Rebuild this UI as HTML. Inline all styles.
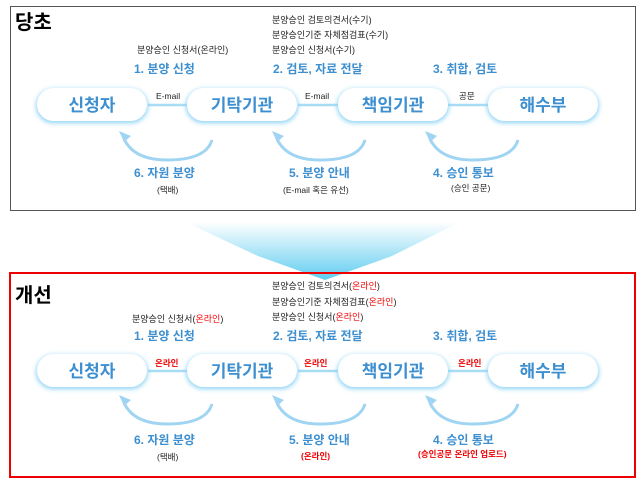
<!DOCTYPE html>
<html><head><meta charset="utf-8"><style>
body{margin:0;background:#fff;width:643px;height:480px;overflow:hidden}
svg{display:block}
text{font-family:"Liberation Sans","Noto Sans CJK KR",sans-serif}
</style></head><body>
<svg width="643" height="480" viewBox="0 0 643 480">
<defs>
<filter id="gl" x="-20%" y="-40%" width="140%" height="180%"><feGaussianBlur stdDeviation="2.5"/></filter>
<linearGradient id="ar" x1="0" y1="0" x2="0" y2="1"><stop offset="0" stop-color="#fff"/><stop offset="1" stop-color="#5fcdf0"/></linearGradient>
<g id="pill">
<rect x="-1" y="1" width="112" height="34" rx="17" fill="#8fd3f5" filter="url(#gl)"/>
<rect x="0" y="0" width="110" height="33" rx="16.5" fill="#fff"/>
</g>
<g id="arc">
<path d="M0 0 Q-6 20 -45 20 Q-78 20 -88 -1" fill="none" stroke="#9fd4f2" stroke-width="3"/>
<path d="M-93 -9 L-81 -4 L-88 2 Z" fill="#9fd4f2"/>
</g>
</defs>
<rect x="10.5" y="6.5" width="625" height="204" fill="#fff" stroke="#555" stroke-width="1"/>
<text x="15" y="29" font-size="20" font-weight="bold" fill="#000">당초</text>
<g font-size="9" fill="#222">
<text x="272" y="23">분양승인 검토의견서(수기)</text>
<text x="272" y="38">분양승인기준 자체점검표(수기)</text>
<text x="272" y="53">분양승인 신청서(수기)</text>
<text x="137" y="53">분양승인 신청서(온라인)</text>
</g>
<g font-size="12" font-weight="bold" fill="#3d8fd0">
<text x="134" y="73">1. 분양 신청</text>
<text x="273" y="73">2. 검토, 자료 전달</text>
<text x="433" y="73">3. 취합, 검토</text>
<text x="134" y="177">6. 자원 분양</text>
<text x="289" y="177">5. 분양 안내</text>
<text x="433" y="177">4. 승인 통보</text>
</g>
<g font-size="8.5" fill="#222">
<text x="157" y="193">(택배)</text>
<text x="283" y="193">(E-mail 혹은 유선)</text>
<text x="451" y="191">(승인 공문)</text>
<text x="156" y="99">E-mail</text>
<text x="305" y="99">E-mail</text>
<text x="459" y="99">공문</text>
</g>
<g stroke="#a8dcf5" stroke-width="2.5">
<line x1="148" y1="105" x2="188" y2="105"/><line x1="298" y1="105" x2="338" y2="105"/><line x1="448" y1="105" x2="488" y2="105"/>
</g>
<use href="#pill" x="37" y="88"/><use href="#pill" x="187" y="88"/><use href="#pill" x="338" y="88"/><use href="#pill" x="488" y="88"/>
<g font-size="17" font-weight="bold" fill="#3d8fd0" text-anchor="middle">
<text x="92" y="111">신청자</text><text x="242" y="111">기탁기관</text><text x="393" y="111">책임기관</text><text x="543" y="111">해수부</text>
</g>
<use href="#arc" x="212" y="140"/><use href="#arc" x="365" y="140"/><use href="#arc" x="518" y="140"/>

<path d="M185 222 L460 222 L392 256 L325 280 L258 256 Z" fill="url(#ar)"/>

<rect x="10" y="273" width="625" height="204" fill="none" stroke="#e00" stroke-width="2"/>
<text x="15" y="302" font-size="20" font-weight="bold" fill="#000">개선</text>
<g font-size="9" fill="#222">
<text x="272" y="289">분양승인 검토의견서(<tspan fill="#e00">온라인</tspan>)</text>
<text x="272" y="305">분양승인기준 자체점검표(<tspan fill="#e00">온라인</tspan>)</text>
<text x="272" y="320">분양승인 신청서(<tspan fill="#e00">온라인</tspan>)</text>
<text x="132" y="322">분양승인 신청서(<tspan fill="#e00">온라인</tspan>)</text>
</g>
<g font-size="12" font-weight="bold" fill="#3d8fd0">
<text x="134" y="340">1. 분양 신청</text>
<text x="273" y="340">2. 검토, 자료 전달</text>
<text x="433" y="340">3. 취합, 검토</text>
<text x="134" y="444">6. 자원 분양</text>
<text x="289" y="444">5. 분양 안내</text>
<text x="433" y="444">4. 승인 통보</text>
</g>
<g font-size="8.5" font-weight="bold" fill="#e00">
<text x="155" y="366">온라인</text><text x="304" y="366">온라인</text><text x="458" y="366">온라인</text>
<text x="301" y="459">(온라인)</text>
<text x="418" y="457">(승인공문 온라인 업로드)</text>
</g>
<text x="157" y="460" font-size="8.5" fill="#222">(택배)</text>
<g stroke="#a8dcf5" stroke-width="2.5">
<line x1="148" y1="371" x2="188" y2="371"/><line x1="298" y1="371" x2="338" y2="371"/><line x1="448" y1="371" x2="488" y2="371"/>
</g>
<use href="#pill" x="37" y="354"/><use href="#pill" x="187" y="354"/><use href="#pill" x="338" y="354"/><use href="#pill" x="488" y="354"/>
<g font-size="17" font-weight="bold" fill="#3d8fd0" text-anchor="middle">
<text x="92" y="377">신청자</text><text x="242" y="377">기탁기관</text><text x="393" y="377">책임기관</text><text x="543" y="377">해수부</text>
</g>
<use href="#arc" x="212" y="404"/><use href="#arc" x="365" y="404"/><use href="#arc" x="518" y="404"/>
</svg>
</body></html>
